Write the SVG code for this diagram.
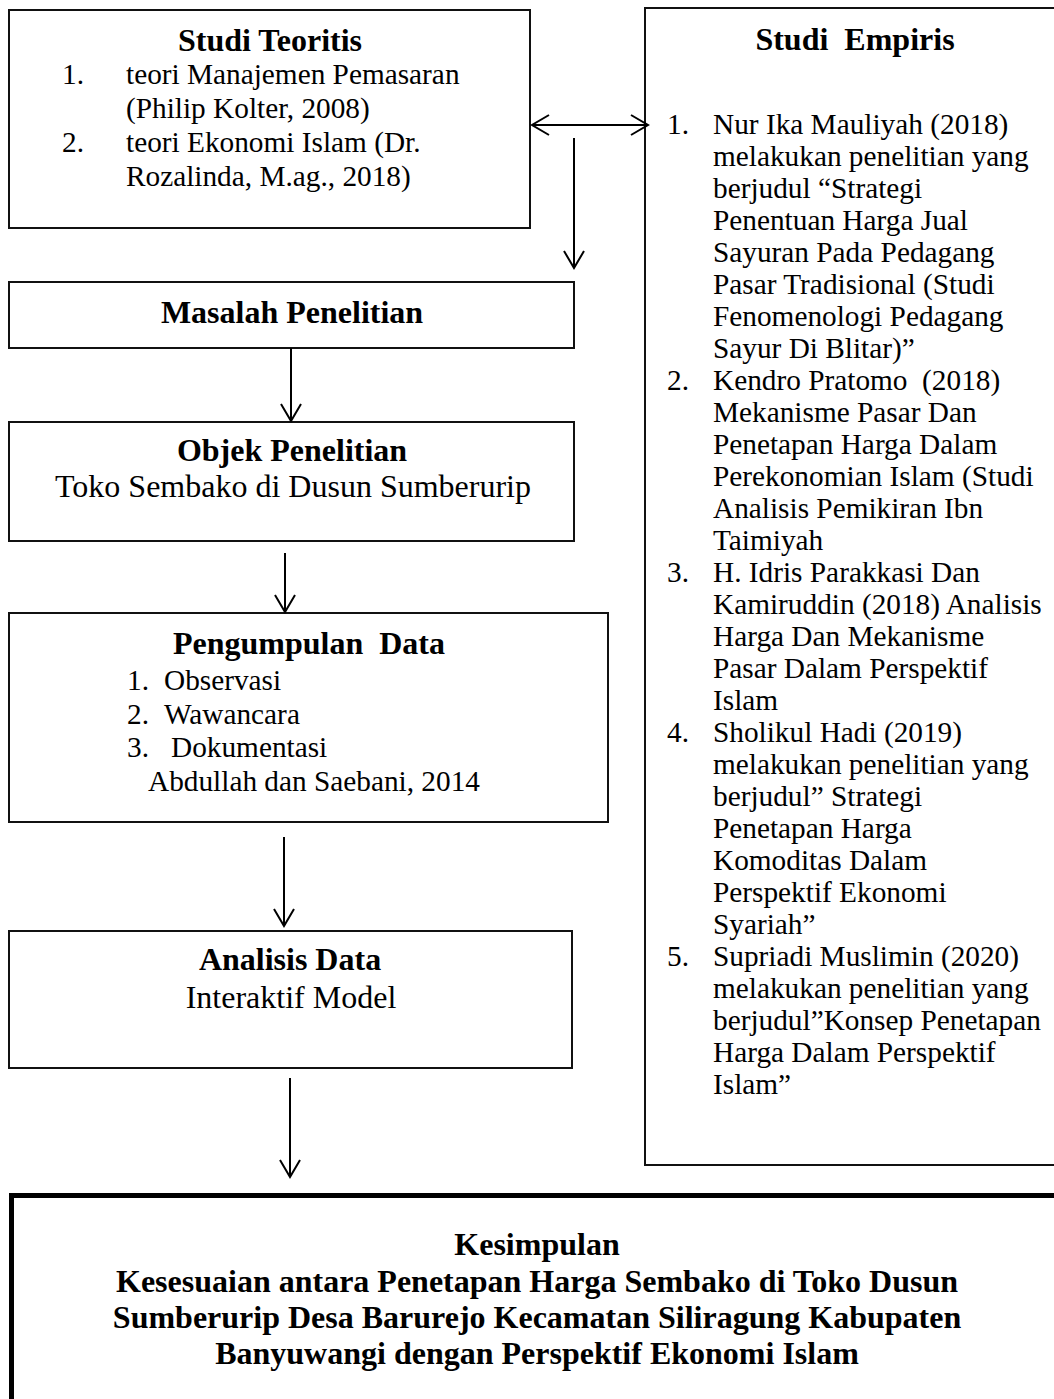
<svg xmlns="http://www.w3.org/2000/svg" width="1054" height="1399" viewBox="0 0 1054 1399">
<style>
.box{fill:#fff;stroke:#111;stroke-width:2}
.thick{fill:#fff;stroke:#000;stroke-width:5}
.t{font-family:"Liberation Serif","Times New Roman",serif;fill:#000}
.b{font-weight:bold;font-size:32px}
.r{font-size:32px}
.s{font-size:29.3px}
.c{text-anchor:middle}
.ln{stroke:#000;stroke-width:2;fill:none}
</style>
<defs>
<marker id="ah" markerUnits="userSpaceOnUse" viewBox="-20 -12 22 24" refX="0" refY="0" markerWidth="22" markerHeight="24" orient="auto-start-reverse">
<path d="M -17 -10 L 0 0 L -17 10" fill="none" stroke="#000" stroke-width="2"/>
</marker>
</defs>
<rect width="1054" height="1399" fill="#fff"/>

<g id="studi-teoritis">
<rect class="box" x="9" y="10" width="521" height="218"/>
<text class="t b c" x="270" y="51">Studi Teoritis</text>
<text class="t s" x="62" y="84">1.</text>
<text class="t s" x="126" y="84">teori Manajemen Pemasaran</text>
<text class="t s" x="126" y="118">(Philip Kolter, 2008)</text>
<text class="t s" x="62" y="152">2.</text>
<text class="t s" x="126" y="152">teori Ekonomi Islam (Dr.</text>
<text class="t s" x="126" y="186">Rozalinda, M.ag., 2018)</text>
</g>

<g id="studi-empiris">
<rect class="box" x="645" y="8" width="500" height="1157"/>
<text class="t b c" x="855" y="50" xml:space="preserve">Studi  Empiris</text>
<text class="t s" x="667" y="134">1.</text>
<text class="t s" x="667" y="390">2.</text>
<text class="t s" x="667" y="582">3.</text>
<text class="t s" x="667" y="742">4.</text>
<text class="t s" x="667" y="966">5.</text>
<text class="t s" xml:space="preserve"><tspan x="713" y="134">Nur Ika Mauliyah (2018)</tspan><tspan x="713" y="166">melakukan penelitian yang</tspan><tspan x="713" y="198">berjudul “Strategi</tspan><tspan x="713" y="230">Penentuan Harga Jual</tspan><tspan x="713" y="262">Sayuran Pada Pedagang</tspan><tspan x="713" y="294">Pasar Tradisional (Studi</tspan><tspan x="713" y="326">Fenomenologi Pedagang</tspan><tspan x="713" y="358">Sayur Di Blitar)”</tspan><tspan x="713" y="390">Kendro Pratomo  (2018)</tspan><tspan x="713" y="422">Mekanisme Pasar Dan</tspan><tspan x="713" y="454">Penetapan Harga Dalam</tspan><tspan x="713" y="486">Perekonomian Islam (Studi</tspan><tspan x="713" y="518">Analisis Pemikiran Ibn</tspan><tspan x="713" y="550">Taimiyah</tspan><tspan x="713" y="582">H. Idris Parakkasi Dan</tspan><tspan x="713" y="614">Kamiruddin (2018) Analisis</tspan><tspan x="713" y="646">Harga Dan Mekanisme</tspan><tspan x="713" y="678">Pasar Dalam Perspektif</tspan><tspan x="713" y="710">Islam</tspan><tspan x="713" y="742">Sholikul Hadi (2019)</tspan><tspan x="713" y="774">melakukan penelitian yang</tspan><tspan x="713" y="806">berjudul” Strategi</tspan><tspan x="713" y="838">Penetapan Harga</tspan><tspan x="713" y="870">Komoditas Dalam</tspan><tspan x="713" y="902">Perspektif Ekonomi</tspan><tspan x="713" y="934">Syariah”</tspan><tspan x="713" y="966">Supriadi Muslimin (2020)</tspan><tspan x="713" y="998">melakukan penelitian yang</tspan><tspan x="713" y="1030">berjudul”Konsep Penetapan</tspan><tspan x="713" y="1062">Harga Dalam Perspektif</tspan><tspan x="713" y="1094">Islam”</tspan></text>
</g>

<g id="masalah-penelitian">
<rect class="box" x="9" y="282" width="565" height="66"/>
<text class="t b c" x="292" y="323">Masalah Penelitian</text>
</g>

<g id="objek-penelitian">
<rect class="box" x="9" y="422" width="565" height="119"/>
<text class="t b c" x="292" y="461">Objek Penelitian</text>
<text class="t r c" x="293" y="497">Toko Sembako di Dusun Sumberurip</text>
</g>

<g id="pengumpulan-data">
<rect class="box" x="9" y="613" width="599" height="209"/>
<text class="t b c" x="309" y="654" xml:space="preserve">Pengumpulan  Data</text>
<text class="t s" x="127" y="690">1.</text>
<text class="t s" x="164" y="690">Observasi</text>
<text class="t s" x="127" y="724">2.</text>
<text class="t s" x="164" y="724">Wawancara</text>
<text class="t s" x="127" y="757">3.</text>
<text class="t s" x="171" y="757">Dokumentasi</text>
<text class="t s" x="148" y="791">Abdullah dan Saebani, 2014</text>
</g>

<g id="analisis-data">
<rect class="box" x="9" y="931" width="563" height="137"/>
<text class="t b c" x="290" y="970">Analisis Data</text>
<text class="t r c" x="291" y="1008">Interaktif Model</text>
</g>

<g id="kesimpulan">
<rect class="thick" x="11.5" y="1195.5" width="1100" height="300"/>
<text class="t b c" x="537" y="1255">Kesimpulan</text>
<text class="t b c" x="537" y="1292">Kesesuaian antara Penetapan Harga Sembako di Toko Dusun</text>
<text class="t b c" x="537" y="1328">Sumberurip Desa Barurejo Kecamatan Siliragung Kabupaten</text>
<text class="t b c" x="537" y="1364">Banyuwangi dengan Perspektif Ekonomi Islam</text>
</g>

<g id="connectors">
<line class="ln" x1="532" y1="125" x2="648" y2="125" marker-start="url(#ah)" marker-end="url(#ah)"/>
<line class="ln" x1="574" y1="138" x2="574" y2="268" marker-end="url(#ah)"/>
<line class="ln" x1="291" y1="348" x2="291" y2="421" marker-end="url(#ah)"/>
<line class="ln" x1="285" y1="553" x2="285" y2="612" marker-end="url(#ah)"/>
<line class="ln" x1="284" y1="837" x2="284" y2="926" marker-end="url(#ah)"/>
<line class="ln" x1="290" y1="1078" x2="290" y2="1177" marker-end="url(#ah)"/>
</g>
</svg>
